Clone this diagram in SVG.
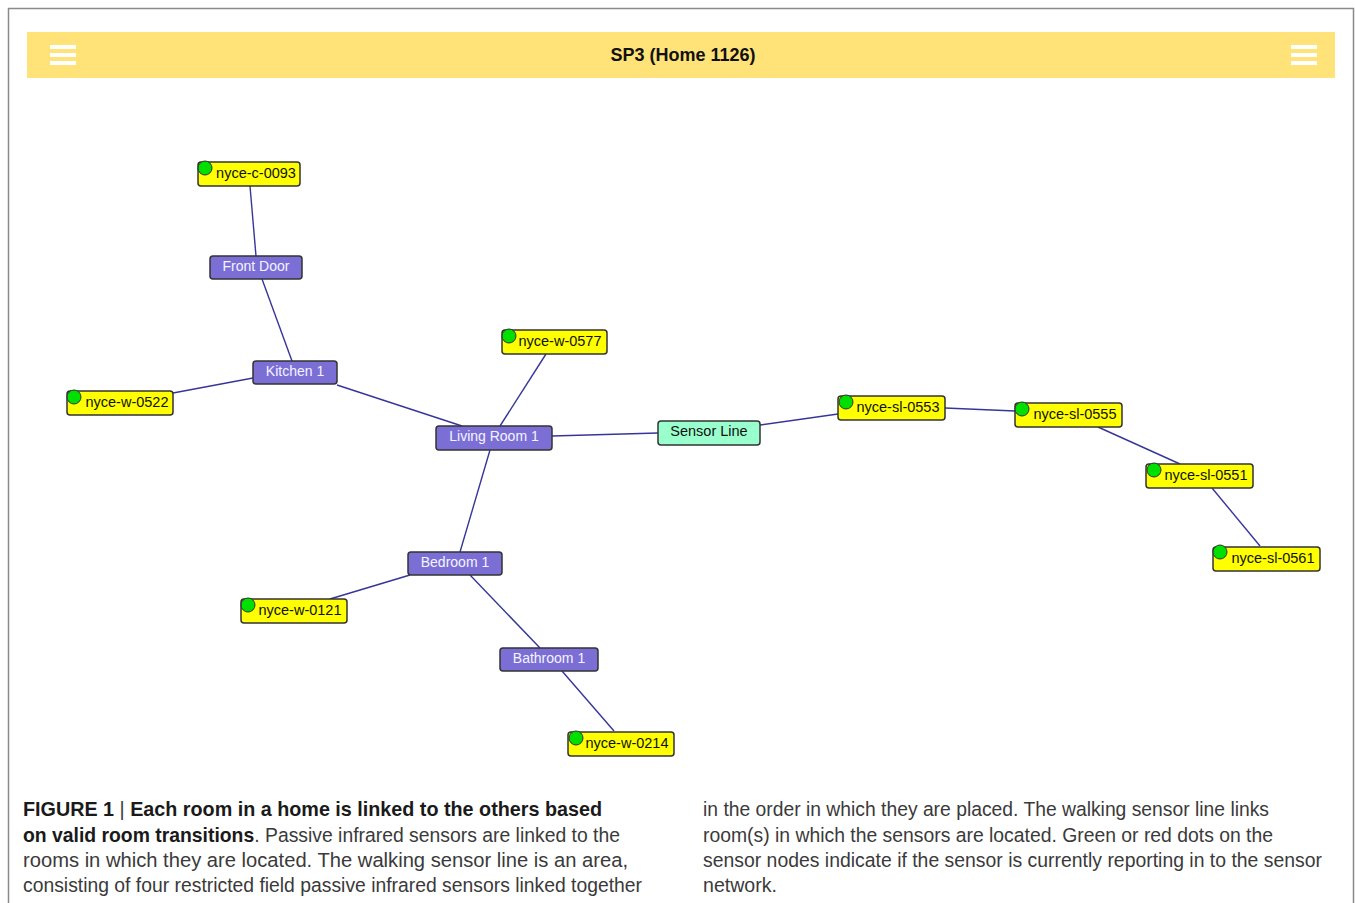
<svg xmlns="http://www.w3.org/2000/svg" width="1355" height="903" viewBox="0 0 1355 903">
<defs>
<style>
.frame{fill:none;stroke:#8a8a8a;stroke-width:1.5}
.bar{fill:#ffe278}
.ham{fill:#ffffff}
.title{font-family:"Liberation Sans",Arial,sans-serif;font-size:18px;font-weight:bold;fill:#111;text-anchor:middle}
.edge{stroke:#36369a;stroke-width:1.4;fill:none}
.room rect{fill:#7b6fd6;stroke:#333;stroke-width:1.5}
.room text{font-family:"Liberation Sans",Arial,sans-serif;font-size:14px;fill:#f4f4ff;text-anchor:middle}
.sensor rect{fill:#ffff00;stroke:#333;stroke-width:1.5}
.sensor text{font-family:"Liberation Sans",Arial,sans-serif;font-size:14.5px;fill:#111;text-anchor:middle}
.sensor circle{fill:#00e000;stroke:#333;stroke-width:1}
.line rect{fill:#99ffcc;stroke:#333;stroke-width:1.5}
.line text{font-family:"Liberation Sans",Arial,sans-serif;font-size:14.5px;fill:#111;text-anchor:middle}
.cap{font-family:"Liberation Sans",Arial,sans-serif;font-size:19.3px;fill:#3a3a3a}
.capb{font-weight:bold;fill:#1a1a1a}
</style>
</defs>
<rect width="1355" height="903" fill="#ffffff"/>
<path class="frame" d="M8.5,903 V8.5 H1353.5 V903"/>
<g id="header">
<rect class="bar" x="27" y="32" width="1308" height="46"/>
<rect class="ham" x="50" y="45" width="26" height="4"/>
<rect class="ham" x="50" y="53" width="26" height="4"/>
<rect class="ham" x="50" y="61" width="26" height="4"/>
<rect class="ham" x="1291" y="45" width="26" height="4"/>
<rect class="ham" x="1291" y="53" width="26" height="4"/>
<rect class="ham" x="1291" y="61" width="26" height="4"/>
<text class="title" x="683" y="61">SP3 (Home 1126)</text>
</g>
<g id="connectors">
<line class="edge" x1="250" y1="186" x2="256" y2="256"/>
<line class="edge" x1="262" y1="279" x2="292" y2="361"/>
<line class="edge" x1="253" y1="378" x2="173" y2="393"/>
<line class="edge" x1="337" y1="385" x2="462" y2="426"/>
<line class="edge" x1="546" y1="354" x2="500" y2="426"/>
<line class="edge" x1="552" y1="436" x2="658" y2="433"/>
<line class="edge" x1="760" y1="425" x2="838" y2="414"/>
<line class="edge" x1="945" y1="408" x2="1015" y2="411"/>
<line class="edge" x1="1098" y1="427" x2="1180" y2="464"/>
<line class="edge" x1="1212" y1="488" x2="1260" y2="546"/>
<line class="edge" x1="490" y1="450" x2="460" y2="552"/>
<line class="edge" x1="410" y1="575" x2="330" y2="599"/>
<line class="edge" x1="470" y1="575" x2="540" y2="648"/>
<line class="edge" x1="562" y1="671" x2="614" y2="731"/>
</g>
<g id="front-door" class="room"><rect x="210" y="256" width="92" height="23" rx="3"/><text x="256" y="271">Front Door</text></g>
<g id="kitchen-1" class="room"><rect x="253" y="361" width="84" height="23" rx="3"/><text x="295" y="376">Kitchen 1</text></g>
<g id="living-room-1" class="room"><rect x="436" y="426" width="116" height="24" rx="3"/><text x="494" y="441">Living Room 1</text></g>
<g id="bedroom-1" class="room"><rect x="408" y="552" width="94" height="23" rx="3"/><text x="455" y="567">Bedroom 1</text></g>
<g id="bathroom-1" class="room"><rect x="500" y="648" width="98" height="23" rx="3"/><text x="549" y="663">Bathroom 1</text></g>
<g id="sensor-line" class="line"><rect x="658" y="421" width="102" height="24" rx="3"/><text x="709" y="436">Sensor Line</text></g>
<g id="nyce-c-0093" class="sensor"><rect x="198" y="162" width="102" height="24" rx="3"/><text x="256" y="178">nyce-c-0093</text><circle cx="205" cy="168" r="7"/></g>
<g id="nyce-w-0522" class="sensor"><rect x="67" y="391" width="106" height="24" rx="3"/><text x="127" y="407">nyce-w-0522</text><circle cx="74" cy="397" r="7"/></g>
<g id="nyce-w-0577" class="sensor"><rect x="502" y="330" width="105" height="24" rx="3"/><text x="560" y="346">nyce-w-0577</text><circle cx="509" cy="336" r="7"/></g>
<g id="nyce-sl-0553" class="sensor"><rect x="838" y="396" width="107" height="24" rx="3"/><text x="898" y="412">nyce-sl-0553</text><circle cx="846" cy="402" r="7"/></g>
<g id="nyce-sl-0555" class="sensor"><rect x="1015" y="403" width="107" height="24" rx="3"/><text x="1075" y="419">nyce-sl-0555</text><circle cx="1022" cy="409" r="7"/></g>
<g id="nyce-sl-0551" class="sensor"><rect x="1146" y="464" width="107" height="24" rx="3"/><text x="1206" y="480">nyce-sl-0551</text><circle cx="1154" cy="470" r="7"/></g>
<g id="nyce-sl-0561" class="sensor"><rect x="1213" y="547" width="107" height="24" rx="3"/><text x="1273" y="563">nyce-sl-0561</text><circle cx="1220" cy="552" r="7"/></g>
<g id="nyce-w-0121" class="sensor"><rect x="241" y="599" width="106" height="24" rx="3"/><text x="300" y="615">nyce-w-0121</text><circle cx="248" cy="605" r="7"/></g>
<g id="nyce-w-0214" class="sensor"><rect x="568" y="732" width="106" height="24" rx="3"/><text x="627" y="748">nyce-w-0214</text><circle cx="576" cy="738" r="7"/></g>
<g id="caption">
<text class="cap" x="23" y="816" textLength="579" lengthAdjust="spacingAndGlyphs"><tspan class="capb">FIGURE 1</tspan> | <tspan class="capb">Each room in a home is linked to the others based</tspan></text>
<text class="cap" x="23" y="842" textLength="597" lengthAdjust="spacingAndGlyphs"><tspan class="capb">on valid room transitions</tspan>. Passive infrared sensors are linked to the</text>
<text class="cap" x="23" y="867" textLength="605" lengthAdjust="spacingAndGlyphs">rooms in which they are located. The walking sensor line is an area,</text>
<text class="cap" x="23" y="892" textLength="619" lengthAdjust="spacingAndGlyphs">consisting of four restricted field passive infrared sensors linked together</text>
<text class="cap" x="703" y="816" textLength="566" lengthAdjust="spacingAndGlyphs">in the order in which they are placed. The walking sensor line links</text>
<text class="cap" x="703" y="842" textLength="570" lengthAdjust="spacingAndGlyphs">room(s) in which the sensors are located. Green or red dots on the</text>
<text class="cap" x="703" y="867" textLength="619" lengthAdjust="spacingAndGlyphs">sensor nodes indicate if the sensor is currently reporting in to the sensor</text>
<text class="cap" x="703" y="892" textLength="74" lengthAdjust="spacingAndGlyphs">network.</text>
</g>
</svg>
